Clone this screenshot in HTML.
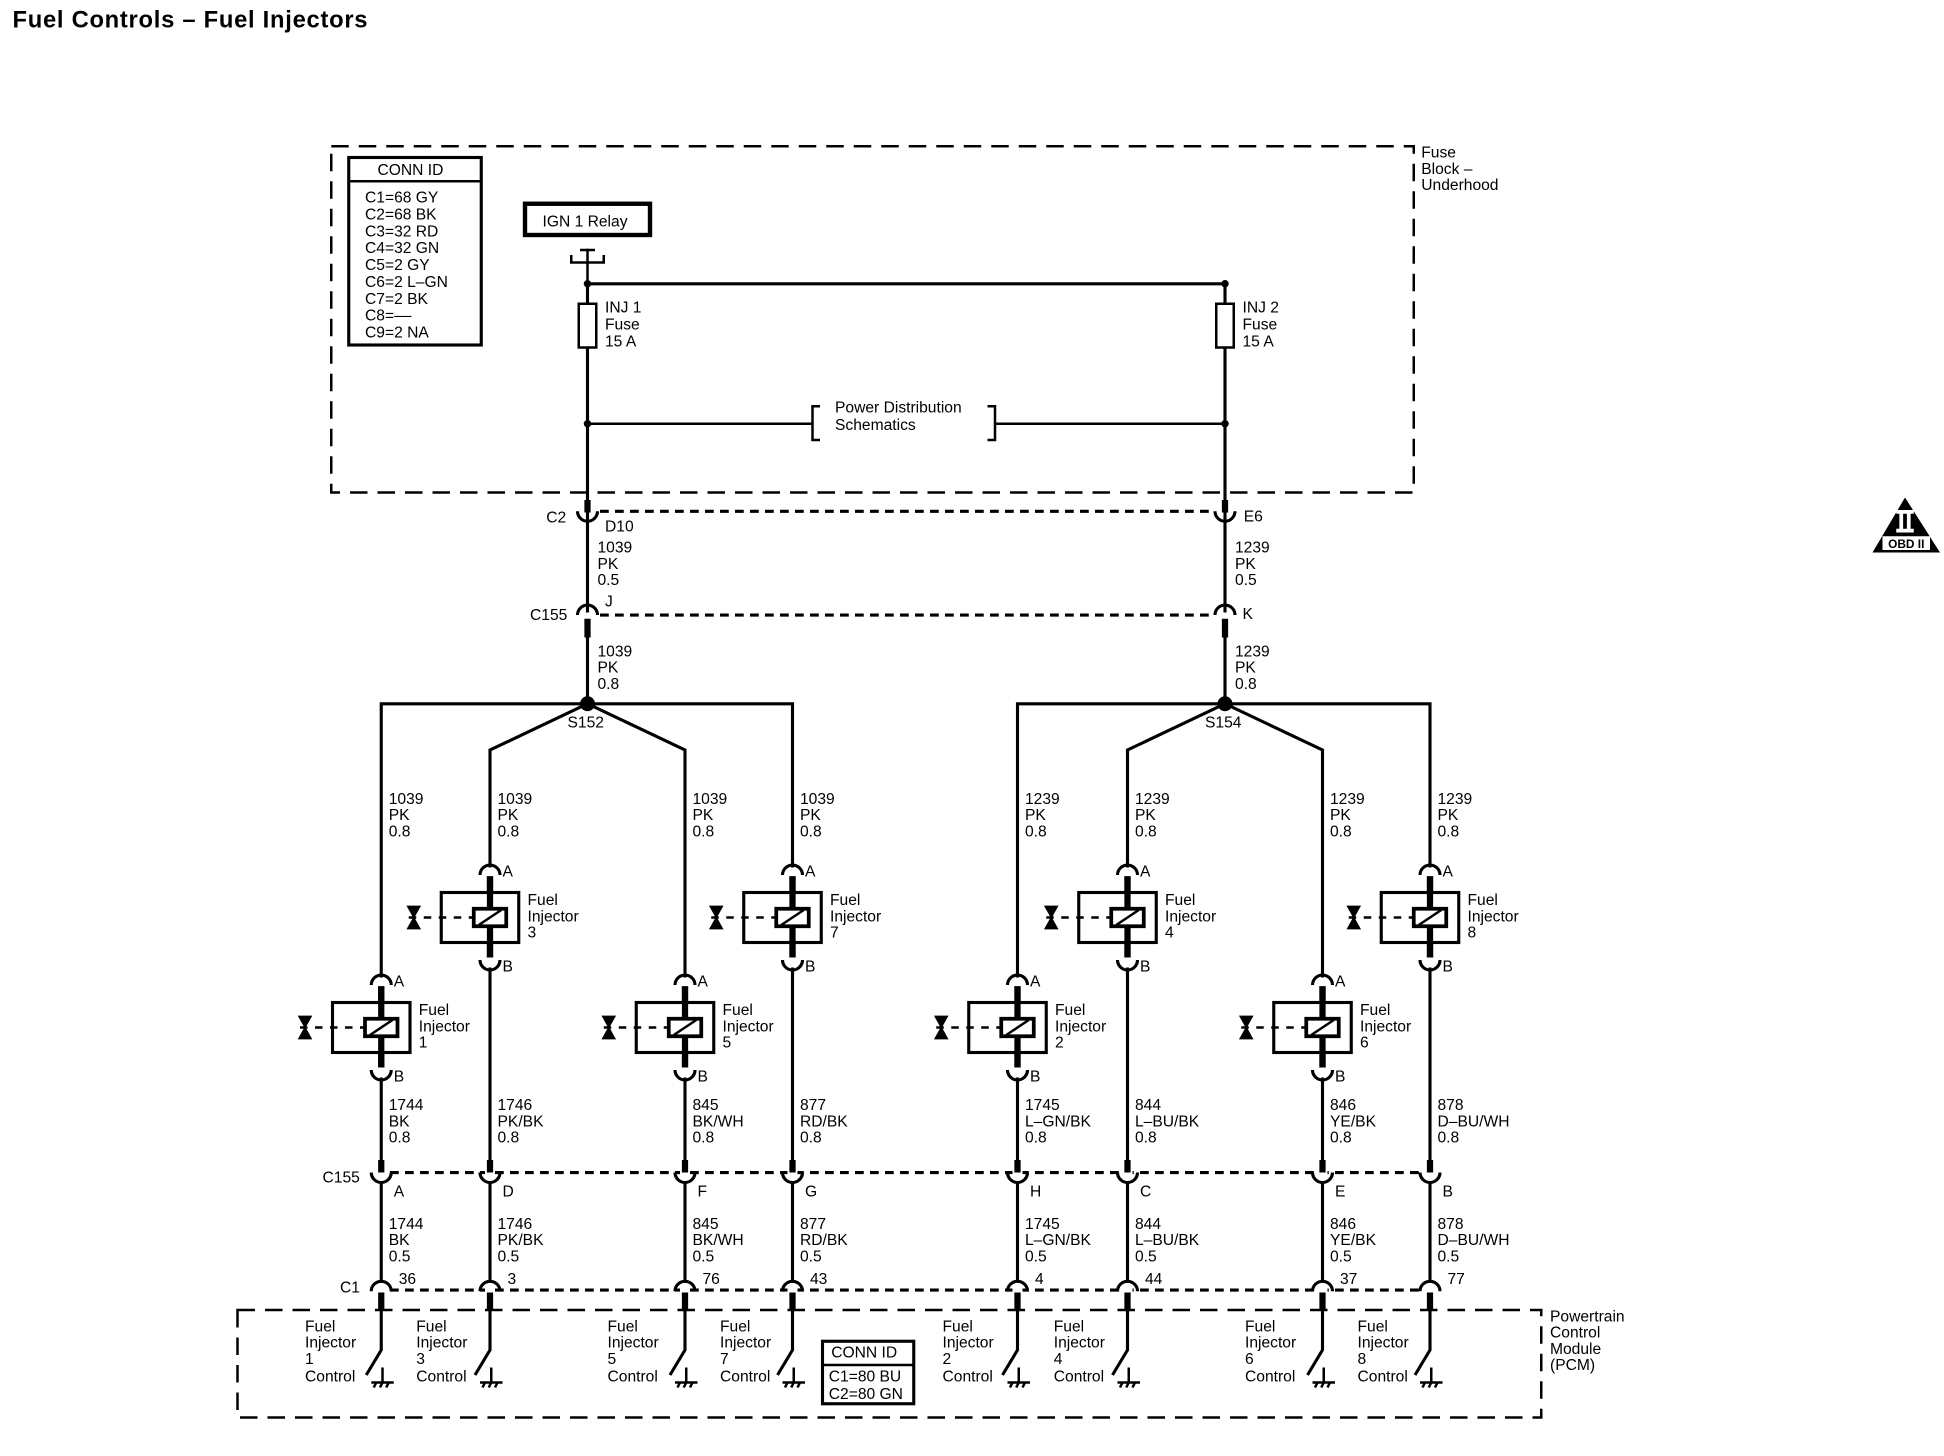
<!DOCTYPE html>
<html><head><meta charset="utf-8"><style>
html,body{margin:0;padding:0;background:#fff;}
svg{display:block;}
text{font-family:"Liberation Sans",Arial,sans-serif;font-size:12.5px;fill:#000;}
</style></head><body>
<svg id="s" width="1944" height="1456" viewBox="0 0 1555.2 1164.8" preserveAspectRatio="none" xmlns="http://www.w3.org/2000/svg">
<rect width="1555.2" height="1164.8" fill="#fff"/>
<text x="10" y="22" style="font-size:19px;font-weight:bold" textLength="284">Fuel Controls – Fuel Injectors</text>
<g fill="none" stroke="#000">
<rect x="265" y="117" width="866" height="277" stroke-width="2" stroke-dasharray="14,8"/>
<rect x="190" y="1048" width="1043" height="86" stroke-width="2" stroke-dasharray="14,8"/>
<rect x="279" y="126" width="106" height="150" stroke-width="2.5"/>
<line x1="279" y1="145" x2="385" y2="145" stroke-width="2"/>
<rect x="420" y="163" width="100" height="25" stroke-width="3.5"/>
<rect x="658" y="1073" width="73" height="50" stroke-width="2.5"/>
<line x1="658" y1="1092" x2="731" y2="1092" stroke-width="2"/>
<path d="M457 204 V210 H483 V204 M470 199 V227" stroke-width="2"/>
<line x1="464" y1="200" x2="476" y2="200" stroke-width="2"/>
<line x1="470" y1="227" x2="980" y2="227" stroke-width="2.5"/>
<line x1="470" y1="227" x2="470" y2="400" stroke-width="2.5"/>
<line x1="980" y1="227" x2="980" y2="400" stroke-width="2.5"/>
<rect x="463" y="243" width="14" height="35" stroke-width="2" fill="#fff"/>
<rect x="973" y="243" width="14" height="35" stroke-width="2" fill="#fff"/>
<line x1="470" y1="339" x2="650" y2="339" stroke-width="2"/>
<line x1="796" y1="339" x2="980" y2="339" stroke-width="2"/>
<path d="M656 325 H650 V352 H656 M790 325 H796 V352 H790" stroke-width="2"/>
<line x1="470" y1="400" x2="470" y2="410" stroke-width="5"/>
<line x1="980" y1="400" x2="980" y2="410" stroke-width="5"/>
<line x1="470" y1="410" x2="470" y2="490" stroke-width="2.5"/>
<line x1="980" y1="410" x2="980" y2="490" stroke-width="2.5"/>
<line x1="470" y1="495" x2="470" y2="510" stroke-width="5"/>
<line x1="980" y1="495" x2="980" y2="510" stroke-width="5"/>
<line x1="470" y1="510" x2="470" y2="563" stroke-width="2.5"/>
<line x1="980" y1="510" x2="980" y2="563" stroke-width="2.5"/>
<line x1="480" y1="409" x2="972" y2="409" stroke-width="2.5" stroke-dasharray="7,5"/>
<line x1="480" y1="492" x2="972" y2="492" stroke-width="2.5" stroke-dasharray="7,5"/>
<line x1="312" y1="938" x2="1140" y2="938" stroke-width="2.5" stroke-dasharray="7,5"/>
<line x1="312" y1="1032" x2="1140" y2="1032" stroke-width="2.5" stroke-dasharray="7,5"/>
<path d="M305 1032 V563 H634 V1032 M392 1032 V600 L470 563 L548 600 V1032" stroke-width="2.5"/>
<path d="M814 1032 V563 H1144 V1032 M902 1032 V600 L980 563 L1058 600 V1032" stroke-width="2.5"/>
<g id="dyn"></g>
</g>
<circle cx="470" cy="227" r="3"/><circle cx="980" cy="227" r="3"/>
<circle cx="470" cy="339" r="3"/><circle cx="980" cy="339" r="3"/>
<circle cx="470" cy="563" r="6"/><circle cx="980" cy="563" r="6"/>
<g id="txt"></g>
<polygon points="1524,398 1498,442 1552,442" fill="#000"/>
<rect x="1517" y="408" width="14" height="3" fill="#fff"/><rect x="1517" y="423" width="14" height="3" fill="#fff"/>
<rect x="1519.5" y="410" width="3" height="14" fill="#fff"/><rect x="1525.5" y="410" width="3" height="14" fill="#fff"/>
<rect x="1506" y="429" width="38" height="11" fill="#fff"/>
<text x="1525" y="438.5" text-anchor="middle" style="font-size:9.5px;font-weight:bold">OBD II</text>
<g style="font-size:12.5px">
<text x="302" y="140">CONN ID</text>
<text x="292" y="162">C1=68 GY</text><text x="292" y="175.5">C2=68 BK</text><text x="292" y="189">C3=32 RD</text><text x="292" y="202.5">C4=32 GN</text><text x="292" y="216">C5=2 GY</text><text x="292" y="229.5">C6=2 L–GN</text><text x="292" y="243">C7=2 BK</text><text x="292" y="256.5">C8=––</text><text x="292" y="270">C9=2 NA</text>
<text x="434" y="181">IGN 1 Relay</text>
<text x="484" y="250">INJ 1</text><text x="484" y="263.5">Fuse</text><text x="484" y="277">15 A</text>
<text x="994" y="250">INJ 2</text><text x="994" y="263.5">Fuse</text><text x="994" y="277">15 A</text>
<text x="668" y="330">Power Distribution</text><text x="668" y="344">Schematics</text>
<text x="1137" y="126">Fuse</text><text x="1137" y="139">Block –</text><text x="1137" y="152">Underhood</text>
<text x="1240" y="1057">Powertrain</text><text x="1240" y="1070">Control</text><text x="1240" y="1083">Module</text><text x="1240" y="1096">(PCM)</text>
<text x="665" y="1086">CONN ID</text><text x="663" y="1105">C1=80 BU</text><text x="663" y="1119">C2=80 GN</text>
<text x="437" y="418">C2</text><text x="484" y="425">D10</text><text x="995" y="417">E6</text>
<text x="478" y="442">1039</text><text x="478" y="455">PK</text><text x="478" y="468">0.5</text>
<text x="988" y="442">1239</text><text x="988" y="455">PK</text><text x="988" y="468">0.5</text>
<text x="484" y="485">J</text><text x="994" y="495">K</text><text x="424" y="496">C155</text>
<text x="478" y="525">1039</text><text x="478" y="538">PK</text><text x="478" y="551">0.8</text>
<text x="988" y="525">1239</text><text x="988" y="538">PK</text><text x="988" y="551">0.8</text>
<text x="454" y="582">S152</text><text x="964" y="582">S154</text>
<text x="258" y="946">C155</text><text x="272" y="1034">C1</text>
</g>
</svg>
<script>
var NS="http://www.w3.org/2000/svg";
var dyn=document.getElementById("dyn"),txt=document.getElementById("txt");
function el(p,tag,a){var e=document.createElementNS(NS,tag);for(var k in a)e.setAttribute(k,a[k]);p.appendChild(e);return e;}
function T(x,y,s){var t=el(txt,"text",{x:x,y:y});t.textContent=s;}
function cap(x,y){el(dyn,"path",{d:"M"+(x-8)+" "+y+" A8 8 0 0 1 "+(x+8)+" "+y,"stroke-width":2.5});}
function cup(x,y){el(dyn,"path",{d:"M"+(x-8)+" "+y+" A8 8 0 0 0 "+(x+8)+" "+y,"stroke-width":2.5});}
function thick(x,y1,y2){el(dyn,"line",{x1:x,y1:y1,x2:x,y2:y2,"stroke-width":5});}
function white(x,y1,y2){el(dyn,"line",{x1:x,y1:y1,x2:x,y2:y2,"stroke-width":8,stroke:"#fff"});}
function inj(x,yt,n){
  white(x,yt-20,yt+60);
  cap(x,yt-14);thick(x,yt-13,yt+52);cup(x,yt+54);
  el(dyn,"rect",{x:x-39,y:yt,width:62,height:40,"stroke-width":2.5,fill:"#fff"});
  thick(x,yt-13,yt+52);
  el(dyn,"rect",{x:x-13,y:yt+13,width:26,height:14,"stroke-width":3,fill:"#fff"});
  el(dyn,"line",{x1:x-9,y1:yt+26,x2:x+9,y2:yt+14,"stroke-width":2});
  el(dyn,"line",{x1:x-65,y1:yt+20,x2:x-13,y2:yt+20,"stroke-width":2,"stroke-dasharray":"6,6"});
  el(dyn,"path",{d:"M"+(x-66)+" "+(yt+11)+" h10 l-10 18 h10 z",fill:"#000","stroke-width":1});
  T(x+10,yt-13,"A");T(x+10,yt+63,"B");
  T(x+30,yt+10,"Fuel");T(x+30,yt+23,"Injector");T(x+30,yt+36,String(n));
}
var cols=[[305,1,802,"1039","1744","BK","A","36"],[392,3,714,"1039","1746","PK/BK","D","3"],[548,5,802,"1039","845","BK/WH","F","76"],[634,7,714,"1039","877","RD/BK","G","43"],
[814,2,802,"1239","1745","L-GN/BK","H","4"],[902,4,714,"1239","844","L-BU/BK","C","44"],[1058,6,802,"1239","846","YE/BK","E","37"],[1144,8,714,"1239","878","D-BU/WH","B","77"]];
cols.forEach(function(c){
  var x=c[0];
  inj(x,c[2],c[1]);
  T(x+6,643,c[3]);T(x+6,656,"PK");T(x+6,669,"0.8");
  T(x+6,888,c[4]);T(x+6,901,c[5].replace("-","–"));T(x+6,914,"0.8");
  white(x,930,946);thick(x,928,938);cup(x,938);
  T(x+10,957,c[6]);
  T(x+6,983,c[4]);T(x+6,996,c[5].replace("-","–"));T(x+6,1009,"0.5");
  T(x+14,1027,c[7]);
  white(x,1024,1040);cap(x,1033);thick(x,1034,1048);
  el(dyn,"path",{d:"M"+x+" 1048 V1080 L"+(x-12)+" 1100","stroke-width":2.5});
  el(dyn,"path",{d:"M"+(x+1)+" 1094 V1106 M"+(x-8)+" 1106 H"+(x+10)+" M"+(x-6)+" 1110 l2 -4 M"+(x-1)+" 1110 l2 -4 M"+(x+4)+" 1110 l2 -4","stroke-width":2});
});
var lab=[[244,"1"],[333,"3"],[486,"5"],[576,"7"],[754,"2"],[843,"4"],[996,"6"],[1086,"8"]];
lab.forEach(function(l){T(l[0],1065,"Fuel");T(l[0],1078,"Injector");T(l[0],1091,l[1]);T(l[0],1105,"Control");});
cup(470,409);cap(470,492);cup(980,409);cap(980,492);
</script>
</body></html>
